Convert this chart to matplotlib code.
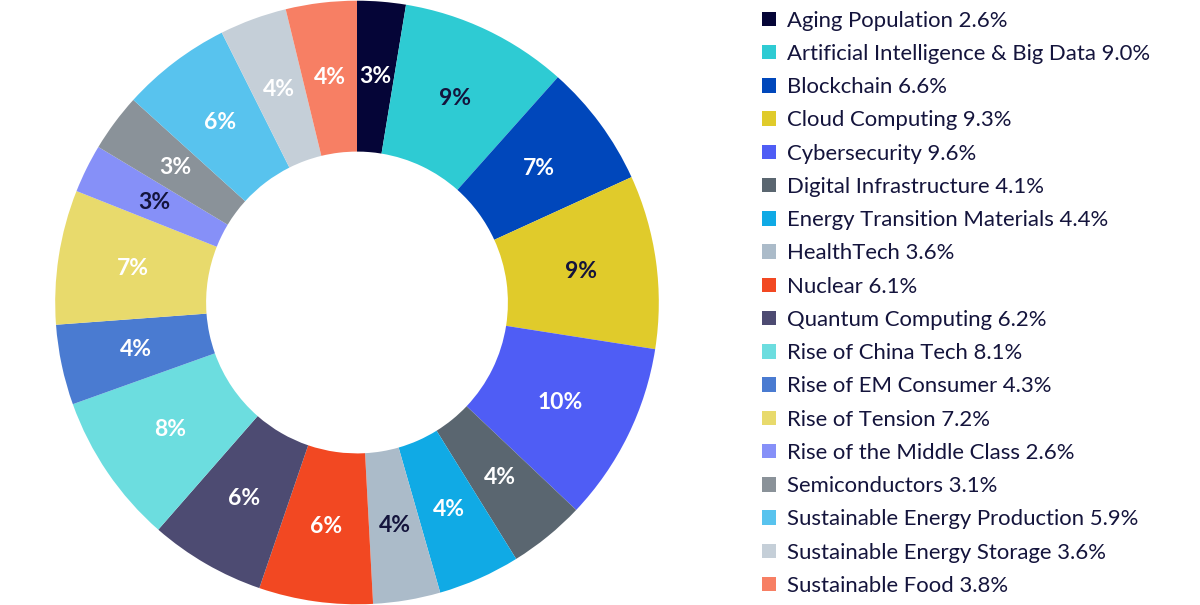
import matplotlib.pyplot as plt
from matplotlib.patches import Patch

themes = ['Aging Population', 'Artificial Intelligence & Big Data', 'Blockchain',
          'Cloud Computing', 'Cybersecurity', 'Digital Infrastructure',
          'Energy Transition Materials', 'HealthTech', 'Nuclear', 'Quantum Computing',
          'Rise of China Tech', 'Rise of EM Consumer', 'Rise of Tension',
          'Rise of the Middle Class', 'Semiconductors', 'Sustainable Energy Production',
          'Sustainable Energy Storage', 'Sustainable Food']
weights = [2.6, 9.0, 6.6, 9.3, 9.6, 4.1, 4.4, 3.6, 6.1, 6.2, 8.1, 4.3, 7.2, 2.6, 3.1, 5.9, 3.6, 3.8]
colors = ['#050537', '#2ECBD3', '#0047BB', '#E0CB2B', '#4F5DF5', '#5A6670',
          '#10AAE5', '#ABBBC9', '#F24822', '#4D4B72', '#6CDDDF', '#4A7BD1',
          '#E8DA6C', '#8690F8', '#8A9299', '#58C3EE', '#C5CFD8', '#F77F64']
# dark label text on the light slices, white elsewhere
dark_label = ['Artificial Intelligence & Big Data', 'Cloud Computing', 'HealthTech',
              'Rise of the Middle Class']

navy = '#14143C'
plt.rcParams['font.family'] = ['Lato', 'DejaVu Sans']

fig = plt.figure(figsize=[12, 6.05], dpi=100)
ax = fig.add_axes([0.046, 0.0, 0.503, 1.0])

wedges, texts, autotexts = ax.pie(weights, colors=colors, startangle=90, counterclock=False,
                                  radius=1.0, wedgeprops=dict(width=0.5, linewidth=0),
                                  autopct=lambda p: F'{p:.0f}%', pctdistance=0.75)
for name, t in zip(themes, autotexts):
    t.set_color(navy if name in dark_label else 'white')
    t.set_fontsize(16.5)
    t.set_fontweight('bold')
ax.set_aspect('equal')
ax.set_xlim(-1, 1)
ax.set_ylim(-1, 1)

handles = [Patch(facecolor=c, edgecolor='none') for c in colors]
labels = [F'{n} {w:.1f}%' for n, w in zip(themes, weights)]
fig.legend(handles, labels, loc='upper left', bbox_to_anchor=(0.628, 0.997),
           frameon=False, fontsize=15.9, labelcolor=navy,
           handlelength=0.63, handleheight=0.63, handletextpad=0.5,
           labelspacing=0.6, borderaxespad=0)

fig.savefig('out.png', dpi=100)
